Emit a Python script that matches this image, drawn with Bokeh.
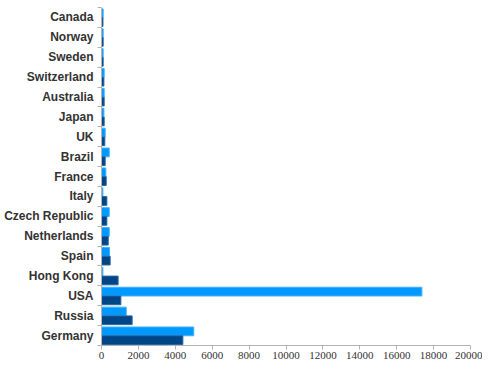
from bokeh.plotting import figure
from bokeh.models import Range1d, FixedTicker
from bokeh.embed import file_html
from bokeh.resources import INLINE

# categories listed from top to bottom
countries = ["Canada", "Norway", "Sweden", "Switzerland", "Australia", "Japan", "UK",
             "Brazil", "France", "Italy", "Czech Republic", "Netherlands", "Spain",
             "Hong Kong", "USA", "Russia", "Germany"]
series_a = [90, 90, 90, 145, 145, 130, 200, 420, 235, 75, 420, 420, 435, 75, 17365, 1340, 5000]
series_b = [80, 90, 90, 130, 145, 145, 180, 200, 255, 290, 290, 365, 470, 900, 1050, 1660, 4410]
x_ticks = [0, 2000, 4000, 6000, 8000, 10000, 12000, 14000, 16000, 18000, 20000]

n = len(countries)
centers = [n - i - 0.5 for i in range(n)]
bounds = [float(k) for k in range(n + 1)]
y_a = [c + 0.21 for c in centers]
y_b = [c - 0.23 for c in centers]

p = figure(width=482, height=361, output_backend="svg", toolbar_location=None,
           x_range=Range1d(0, 20000), y_range=Range1d(0, n),
           min_border_left=101, min_border_right=12, min_border_top=7, min_border_bottom=16)
p.outline_line_color = None
p.xgrid.visible = False
p.ygrid.visible = False

p.hbar(y=y_a, left=0, right=series_a, height=0.44, fill_color="#0099ff",
       line_color="#3fb0ff", line_width=1)
p.hbar(y=y_b, left=0, right=series_b, height=0.44, fill_color="#004586",
       line_color="#2a64a0", line_width=1)

ax = p.yaxis[0]
ax.ticker = FixedTicker(ticks=centers, minor_ticks=bounds)
ax.major_label_overrides = {c: name for c, name in zip(centers, countries)}
ax.major_tick_out = 0
ax.major_tick_in = 0
ax.minor_tick_out = 4
ax.minor_tick_in = 0
ax.minor_tick_line_color = "#b3b3b3"
ax.axis_line_color = "#b3b3b3"
ax.major_label_standoff = 4
ax.major_label_text_font = "Liberation Sans"
ax.major_label_text_font_style = "bold"
ax.major_label_text_font_size = "12px"
ax.major_label_text_color = "#333333"

bx = p.xaxis[0]
bx.ticker = FixedTicker(ticks=x_ticks)
bx.major_tick_out = 4
bx.major_tick_in = 0
bx.minor_tick_out = 0
bx.minor_tick_in = 0
bx.major_tick_line_color = "#b3b3b3"
bx.axis_line_color = "#b3b3b3"
bx.major_label_standoff = 2
bx.major_label_text_font = "Liberation Sans Narrow"
bx.major_label_text_font_size = "11px"
bx.major_label_text_color = "#333333"

open("out.html", "w").write(file_html(p, INLINE))
